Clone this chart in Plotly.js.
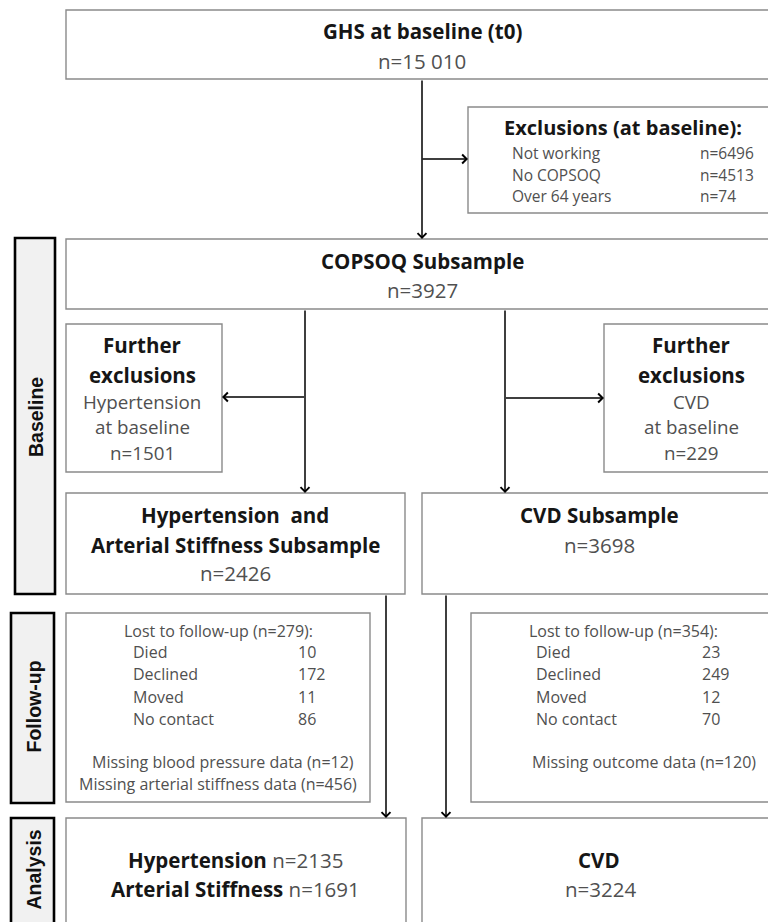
<!DOCTYPE html>
<html>
<head>
<meta charset="utf-8">
<script src="https://cdn.plot.ly/plotly-3.0.1.min.js"></script>
<style>html,body{margin:0;padding:0;background:#fff;}#chart{width:768px;height:922px;}</style>
</head>
<body>
<div id="chart"></div>
<script>
// ---- data ----
const totalTitle = "GHS at baseline (t0)";
const totalN = 15010;
const exclTitle = "Exclusions (at baseline):";
const exclLabels = ["Not working", "No COPSOQ", "Over 64 years"];
const exclCounts = [6496, 4513, 74];
const copsoqTitle = "COPSOQ Subsample";
const copsoqN = 3927;
const furtherTitle = ["Further", "exclusions"];
const furtherLabels = [["Hypertension", "at baseline"], ["CVD", "at baseline"]];
const furtherCounts = [1501, 229];
const subTitles = [["Hypertension\u00a0 and", "Arterial Stiffness Subsample"], ["CVD Subsample"]];
const subCounts = [2426, 3698];
const lostTotals = [279, 354];
const lostLabels = ["Died", "Declined", "Moved", "No contact"];
const lostHyp = [10, 172, 11, 86];
const lostCvd = [23, 249, 12, 70];
const missingLabels = [["Missing blood pressure data", "Missing arterial stiffness data"], ["Missing outcome data"]];
const missingCounts = [[12, 456], [120]];
const analysisLabels = ["Hypertension", "Arterial Stiffness"];
const analysisHyp = [2135, 1691];
const analysisCvdLabel = "CVD";
const analysisCvd = 3224;
const phaseLabels = ["Baseline", "Follow-up", "Analysis"];

// ---- helpers ----
const FONT = "'Open Sans', Lato, sans-serif";
const DARK = "#161616";
const GREY = "#505050";
const BORDER = "#8a8a8a";
function fmtN(v) { return "n=" + (v >= 10000 ? String(v).replace(/(\d)(?=(\d{3})$)/, "$1 ") : String(v)); }

const shapes = [];
const annotations = [];
function box(x0, y0, x1, y1) {
  shapes.push({type: "rect", xref: "x", yref: "y", x0, y0, x1, y1,
    line: {color: BORDER, width: 1.4}, fillcolor: "rgba(0,0,0,0)"});
}
function phaseBox(x0, y0, x1, y1, label, cy) {
  shapes.push({type: "rect", xref: "x", yref: "y", x0, y0, x1, y1,
    line: {color: "#000", width: 2.6}, fillcolor: "#f1f1f1"});
  annotations.push({x: (x0 + x1) / 2 + 1, y: cy,
    xref: "x", yref: "y", text: "<b>" + label + "</b>", showarrow: false, textangle: -90,
    font: {family: "'Liberation Sans', Arial, sans-serif", size: 19.5, color: "#111"}});
}
function txt(x, y, text, opt) {
  opt = opt || {};
  annotations.push({x, y, xref: "x", yref: "y", text, showarrow: false,
    xanchor: opt.anchor || "center", yanchor: "middle", borderpad: 0,
    font: {family: FONT, size: opt.size || 20.5, color: opt.color || GREY}});
}
function arrow(xs, ys, xe, ye) {
  annotations.push({x: xe, y: ye, ax: xs, ay: ys, xref: "x", yref: "y", axref: "x", ayref: "y",
    text: "", showarrow: true, arrowhead: 4, arrowsize: 1.15, arrowwidth: 1.5, arrowcolor: "#000", standoff: 0, startstandoff: 0});
}
const B = s => "<b>" + s + "</b>";

// ---- boxes ----
box(66, 10, 790, 79);
box(468, 107, 790, 213);
box(66, 239, 790, 309);
box(66, 324, 222, 472);
box(604, 324, 790, 472);
box(66, 493, 405, 594);
box(422, 493, 790, 594);
box(66, 613, 370, 802);
box(471, 613, 790, 802);
box(66, 818, 406, 940);
box(422, 818, 790, 940);

phaseBox(15, 238, 55, 594, phaseLabels[0], 417);
phaseBox(11, 613, 54, 803, phaseLabels[1], 707);
phaseBox(11, 818, 54, 940, phaseLabels[2], 870);

// ---- connectors ----
arrow(422, 79, 422, 239);
arrow(421, 159, 468, 159);
arrow(305, 309, 305, 493);
arrow(305.5, 397, 222, 397);
arrow(505, 309, 505, 493);
arrow(504.5, 398, 604, 398);
arrow(386, 594, 386, 818);
arrow(446, 594, 446, 818);

// ---- texts ----
txt(422, 31, B(totalTitle), {color: DARK});
txt(422, 61, fmtN(totalN));

txt(623, 127, B(exclTitle), {color: DARK, size: 20});
exclLabels.forEach((l, i) => {
  txt(511, 153 + i * 21.5, l, {anchor: "left", size: 15.5});
  txt(699, 153 + i * 21.5, fmtN(exclCounts[i]), {anchor: "left", size: 15.5});
});

txt(422, 261, B(copsoqTitle), {color: DARK});
txt(422, 290, fmtN(copsoqN));

[142, 691].forEach((cx, k) => {
  txt(cx, 345, B(furtherTitle[0]), {color: DARK});
  txt(cx, 375, B(furtherTitle[1]), {color: DARK});
  txt(cx, 402, furtherLabels[k][0], {size: 18.8});
  txt(cx, 427, furtherLabels[k][1], {size: 18.8});
  txt(cx, 453, fmtN(furtherCounts[k]), {size: 18.8});
});

txt(235, 515, B(subTitles[0][0]), {color: DARK});
txt(235, 545, B(subTitles[0][1]), {color: DARK});
txt(235, 573, fmtN(subCounts[0]));
txt(599, 515, B(subTitles[1][0]), {color: DARK});
txt(599, 545, fmtN(subCounts[1]));

// follow-up tables
const fu = [
  {cx: 218, lx: 132, vx: 297, vals: lostHyp, mc: [223, 218]},
  {cx: 623, lx: 535, vx: 701, vals: lostCvd, mc: [644]}
];
fu.forEach((f, k) => {
  txt(f.cx, 631, "Lost to follow-up (" + fmtN(lostTotals[k]) + "):", {size: 16});
  lostLabels.forEach((l, i) => {
    txt(f.lx, 652 + i * 22.3, l, {anchor: "left", size: 16});
    txt(f.vx, 652 + i * 22.3, String(f.vals[i]), {anchor: "left", size: 16});
  });
  missingLabels[k].forEach((l, j) => {
    txt(f.mc[j], 762 + j * 22, l + " (" + fmtN(missingCounts[k][j]) + ")", {size: 16});
  });
});

// analysis
analysisLabels.forEach((l, i) => {
  txt(235, 860 + i * 29, "<b><span style='color:" + DARK + "'>" + l + "</span></b> " + fmtN(analysisHyp[i]), {size: 20.5});
});
txt(599, 860, B(analysisCvdLabel), {color: DARK, size: 20.5});
txt(600, 889, fmtN(analysisCvd), {size: 20.5});

const layout = {
  width: 768, height: 922,
  margin: {l: 0, r: 0, t: 0, b: 0},
  paper_bgcolor: "#fff", plot_bgcolor: "#fff",
  xaxis: {range: [0, 768], visible: false, fixedrange: true},
  yaxis: {range: [922, 0], visible: false, fixedrange: true},
  showlegend: false,
  shapes, annotations
};
Plotly.newPlot("chart", [], layout, {displayModeBar: false, staticPlot: true});
</script>
</body>
</html>
